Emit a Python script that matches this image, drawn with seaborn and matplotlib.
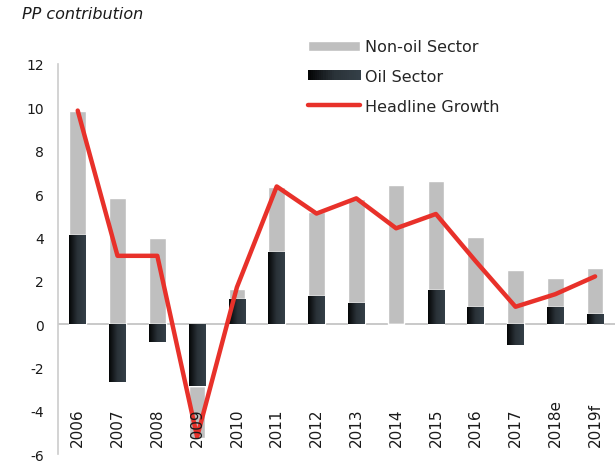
import numpy as np
import matplotlib
matplotlib.use("Agg")
import matplotlib.pyplot as plt
import seaborn as sns
from matplotlib.colors import LinearSegmentedColormap
from matplotlib.patches import Patch, Rectangle
from matplotlib.lines import Line2D
from matplotlib.legend_handler import HandlerBase

# data (percentage points)
years = ["2006", "2007", "2008", "2009", "2010", "2011", "2012",
         "2013", "2014", "2015", "2016", "2017", "2018e", "2019f"]
oil = [4.12, -2.68, -0.82, -2.85, 1.17, 3.34, 1.31,
       0.98, 0.02, 1.57, 0.78, -0.95, 0.78, 0.47]
non_oil = [5.71, 5.81, 3.97, -2.41, 0.45, 2.98, 3.86,
           4.79, 6.39, 5.03, 3.24, 2.49, 1.34, 2.11]
headline = [9.85, 3.15, 3.15, -5.2, 1.7, 6.35, 5.1,
            5.8, 4.42, 5.08, 2.9, 0.8, 1.38, 2.2]

sns.set_style("white")
plt.rcParams["font.family"] = ["DejaVu Sans"]
plt.rcParams["axes.unicode_minus"] = False

GRAY = "#bfbfbf"
RED = "#e8312a"
TXT = "#1a1a1a"
oil_cmap = LinearSegmentedColormap.from_list("oil", ["#050607", "#2a3238", "#343f47"])


class GradientHandler(HandlerBase):
    # draws the legend key as thin strips so it shows the same gradient
    def create_artists(self, legend, orig_handle, xdescent, ydescent,
                       width, height, fontsize, trans):
        n = 24
        strips = []
        for i in range(n):
            r = Rectangle((-xdescent + width * i / n, -ydescent),
                          width / n + 0.3, height,
                          facecolor=oil_cmap(i / (n - 1)), edgecolor="none",
                          transform=trans)
            strips.append(r)
        return strips


fig = plt.figure(figsize=(6.15, 4.64), dpi=100)
ax = fig.add_axes([0.094, 0.019, 0.906, 0.841])

x = np.arange(len(years))
oil_arr = np.array(oil)
non_arr = np.array(non_oil)
# non-oil stacks on oil when both share a sign, otherwise starts at zero
bottom = np.where(np.sign(oil_arr) == np.sign(non_arr), oil_arr, 0)

width = 0.42
ax.bar(x, non_arr, width, bottom=bottom, color=GRAY, zorder=2)
oil_bars = ax.bar(x, oil_arr, width, color="none", zorder=3)

# horizontal dark gradient on the oil bars
grad = np.linspace(0, 1, 64).reshape(1, -1)
for b in oil_bars:
    x0, y0 = b.get_x(), b.get_y()
    w, h = b.get_width(), b.get_height()
    im = ax.imshow(grad, extent=[x0, x0 + w, min(y0, y0 + h), max(y0, y0 + h)],
                   aspect="auto", cmap=oil_cmap, zorder=3, interpolation="bilinear")
    im.set_clip_path(b)

sns.lineplot(x=x, y=headline, ax=ax, color=RED, linewidth=3.2, zorder=5)

ax.axhline(0, color="#c0c0c0", linewidth=1.2, zorder=1)
ax.set_xlim(-0.5, 13.5)
ax.set_ylim(-6, 12)
ax.set_yticks(range(-6, 13, 2))
ax.set_xticks([])
ax.tick_params(axis="y", length=0, pad=10, labelsize=10, colors=TXT)
sns.despine(ax=ax, bottom=True)
ax.spines["left"].set_color("#cccccc")
ax.spines["left"].set_linewidth(1.2)

# year labels sit inside the plot area near the bottom
for xi, yr in zip(x, years):
    ax.text(xi, -5.62, yr, rotation=90, ha="center", va="bottom",
            fontsize=11, color=TXT, zorder=6)

fig.text(0.036, 0.968, "PP contribution", fontsize=11.5, style="italic",
         color=TXT, va="center")

handles = [Patch(facecolor=GRAY), Patch(facecolor="#1f262b"),
           Line2D([0], [0], color=RED, linewidth=3.2)]
fig.legend(handles, ["Non-oil Sector", "Oil Sector", "Headline Growth"],
           loc="upper left", bbox_to_anchor=(0.478, 0.944), frameon=False,
           fontsize=11.5, handlelength=3.25, handleheight=0.6,
           labelspacing=0.92, handletextpad=0.3,
           handler_map={handles[1]: GradientHandler()})

fig.savefig("out.png", dpi=100)
